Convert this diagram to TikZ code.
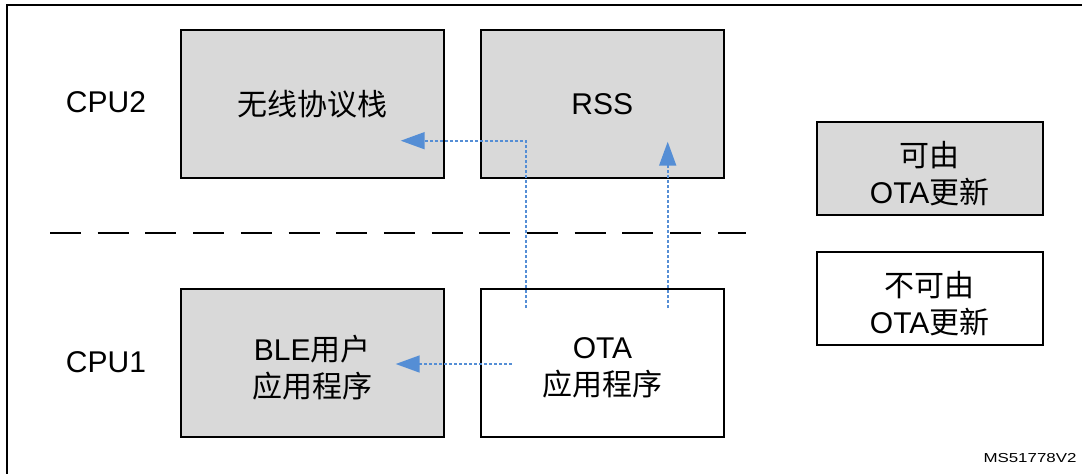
\documentclass[tikz,border=0pt]{standalone}
\usepackage{fontspec}
\setmainfont{Liberation Sans}
\newfontfamily\cjk{Noto Sans CJK SC}
\usetikzlibrary{arrows.meta}
\definecolor{boxgray}{HTML}{D9D9D9}
\definecolor{arrowblue}{RGB}{85,142,213}
\begin{document}
\begin{tikzpicture}[x=1pt,y=-1pt,
  lbl/.style={font=\fontsize{30}{37}\selectfont, align=center, inner sep=0pt},
  twoline/.style={label={[lbl,yshift=-4.5pt]center:{#1}}},
  bigbox/.style={draw=black, line width=2pt, minimum width=243pt, minimum height=148pt, lbl},
  legbox/.style={draw=black, line width=2pt, minimum width=226pt, minimum height=93pt, lbl},
  grayfill/.style={fill=boxgray},
  whitefill/.style={fill=white},
  flow/.style={draw=arrowblue, line width=1.7pt, dash pattern=on 3pt off 2pt,
    -{Triangle[length=24pt,width=17pt]}},
  sep/.style={draw=black, line width=2pt, dash pattern=on 31pt off 16.7pt}
]
\useasboundingbox (0,0) rectangle (1082,474);
\fill[white] (0,0) rectangle (1082,474);
% outer frame (cut off on right and bottom)
\draw[line width=2.5pt] (7,490) -- (7,5) -- (1100,5);

% CPU labels
\node[lbl] (cpu2) at (106,102) {CPU2};
\node[lbl] (cpu1) at (106,362) {CPU1};

% boxes
\node[bigbox, grayfill, minimum width=263pt] (stack) at (312.5,103.7) {\cjk 无线协议栈};
\node[bigbox, grayfill] (rss) at (602.3,103.7) {RSS};
\node[bigbox, grayfill, minimum width=262.5pt,
  twoline={BLE{\cjk 用户}\\{\cjk 应用程序}}] (ble) at (312.3,363.3) {};
\node[bigbox, whitefill, twoline={OTA\\{\cjk 应用程序}}] (ota) at (602.5,363.3) {};

% legend
\node[legbox, grayfill, twoline={{\cjk 可由}\\OTA{\cjk 更新}}] (leg1) at (929.7,168.8) {};
\node[legbox, whitefill, twoline={{\cjk 不可由}\\OTA{\cjk 更新}}] (leg2) at (929.7,298.7) {};

% CPU separator
\coordinate (sepL) at (50,233.3);
\coordinate (sepR) at (746,233.3);
\draw[sep] (sepL) -- (sepR);

% update flows
\coordinate (a1s) at (525.7,308);
\coordinate (a1e) at (400.7,140.7);
\coordinate (a2s) at (667.7,308);
\coordinate (a2e) at (667.7,141.7);
\coordinate (a3s) at (511.7,364);
\coordinate (a3e) at (395.7,364);
\draw[flow] (a1s) |- (a1e);
\draw[flow] (a2s) -- (a2e);
\draw[flow] (a3s) -- (a3e);

% reference code
\node[font=\fontsize{13}{15}\selectfont, inner sep=0pt] (ref) at (1030,458) {\scalebox{1.3}[1]{MS51778V2}};
\end{tikzpicture}
\end{document}
